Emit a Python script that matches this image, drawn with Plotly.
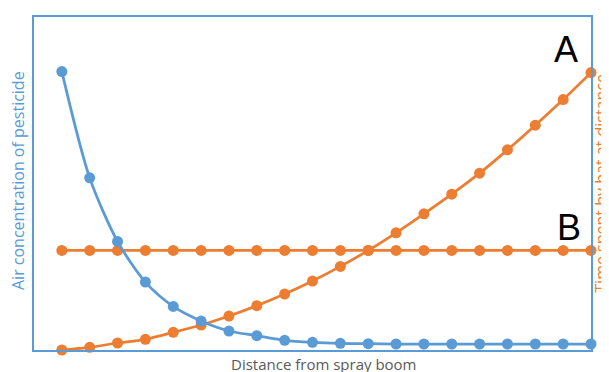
import plotly.graph_objects as go

distance = list(range(20))
pesticide = [83.6, 51.7, 32.6, 20.4, 13.1, 8.7, 5.7, 4.3, 2.9, 2.3,
             2.0, 1.9, 1.8, 1.8, 1.8, 1.8, 1.8, 1.8, 1.8, 1.8]
time_a = [0.0, 0.8, 2.1, 3.2, 5.3, 7.5, 10.2, 13.3, 16.8, 20.7,
          25.1, 29.9, 35.2, 40.9, 46.8, 53.1, 60.1, 67.5, 75.2, 83.3]
time_b = [29.9] * 20

BLUE = "#5B9BD5"
ORANGE = "#ED7D31"
FONT = "Open Sans"

fig = go.Figure()
fig.add_trace(go.Scatter(x=distance, y=time_b, mode="lines+markers",
                         line=dict(color=ORANGE, width=2.75),
                         marker=dict(color=ORANGE, size=11),
                         cliponaxis=False, showlegend=False))
fig.add_trace(go.Scatter(x=distance, y=time_a, mode="lines+markers",
                         line=dict(color=ORANGE, width=2.75, shape="spline", smoothing=0.6),
                         marker=dict(color=ORANGE, size=11),
                         cliponaxis=False, showlegend=False))
fig.add_trace(go.Scatter(x=distance, y=pesticide, mode="lines+markers",
                         line=dict(color=BLUE, width=2.75, shape="spline", smoothing=0.8),
                         marker=dict(color=BLUE, size=11),
                         cliponaxis=False, showlegend=False))

# the page body adds an 8px offset, so the figure is sized to fit the window
fig.update_layout(
    width=601, height=364,
    margin=dict(l=26, r=18, t=7, b=22),
    paper_bgcolor="white", plot_bgcolor="white",
    xaxis=dict(range=[-1, 19], showgrid=False, zeroline=False, showticklabels=False,
               ticks="", showline=True, mirror=True, linecolor=BLUE, linewidth=1.5),
    yaxis=dict(range=[0, 100], showgrid=False, zeroline=False, showticklabels=False,
               ticks="", showline=True, mirror=True, linecolor=BLUE, linewidth=1.5),
    annotations=[
        dict(text="A", x=0.955, y=0.901, xref="paper", yref="paper", showarrow=False,
             xanchor="center", yanchor="middle",
             font=dict(family="Liberation Sans", size=36, color="black")),
        dict(text="B", x=0.96, y=0.367, xref="paper", yref="paper", showarrow=False,
             xanchor="center", yanchor="middle",
             font=dict(family="Liberation Sans", size=36, color="black")),
        dict(text="Air concentration of pesticide", textangle=-90,
             x=-0.029, y=0.51, xref="paper", yref="paper", showarrow=False,
             xanchor="center", yanchor="middle",
             font=dict(family=FONT, size=16, color=BLUE)),
        dict(text="Time spent by bat at distance", textangle=-90,
             x=1.0165, y=0.5, xref="paper", yref="paper", showarrow=False,
             xanchor="center", yanchor="middle",
             font=dict(family=FONT, size=16, color=ORANGE)),
        dict(text="Distance from spray boom", x=0.52, y=-0.043,
             xref="paper", yref="paper", showarrow=False,
             xanchor="center", yanchor="middle",
             font=dict(family=FONT, size=15, color="#595959")),
    ],
)

fig.write_html("out.html")
